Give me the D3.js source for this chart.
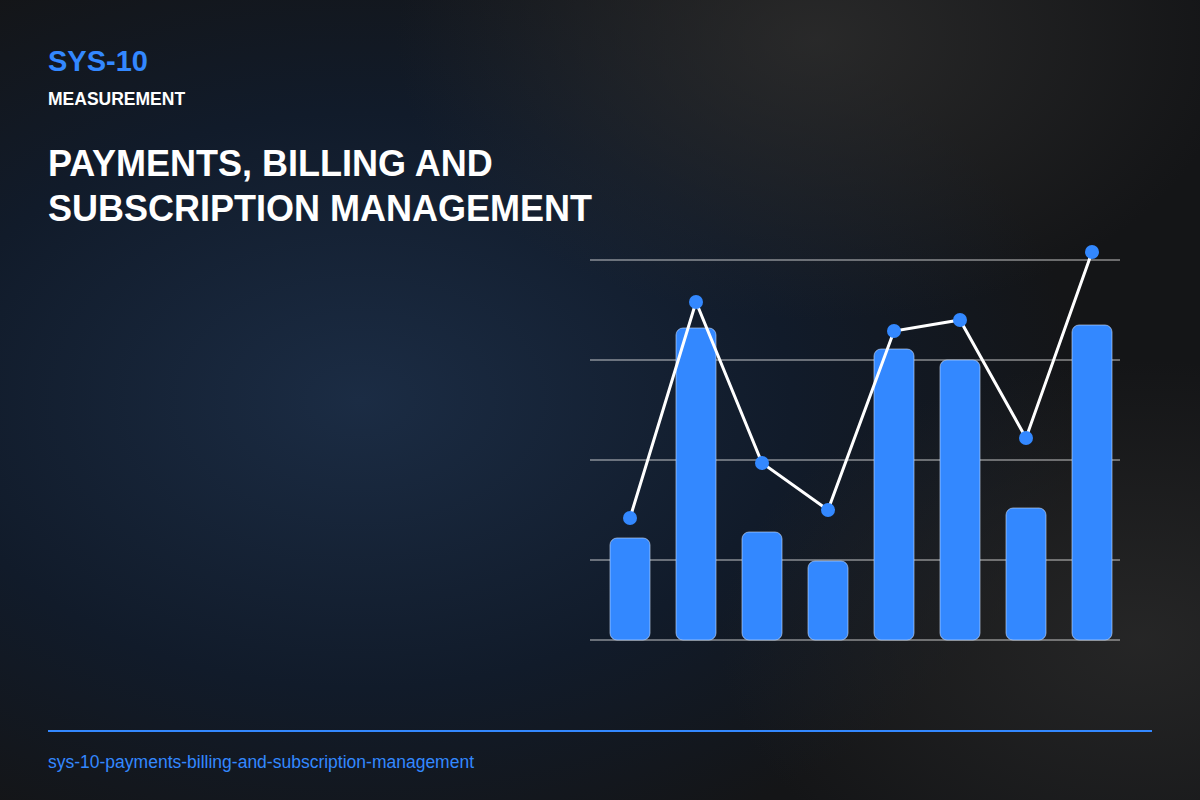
<!DOCTYPE html>
<html><head><meta charset="utf-8">
<script src="https://cdn.jsdelivr.net/npm/d3@7"></script>
<style>body{margin:0;background:#111}svg{display:block}</style></head>
<body><script>
const categories = ["C1","C2","C3","C4","C5","C6","C7","C8"];
const barValues = [24.4, 66.4, 25.6, 19.8, 62.2, 60, 30.4, 67];
const lineValues = [28.4, 71.6, 39.4, 30, 65.8, 68, 44.4, 81.6];
const gridTicks = [20, 40, 60, 80];

const W=1200,H=800;
const svg=d3.select("body").append("svg").attr("width",W).attr("height",H);
const defs=svg.append("defs");
const g1=defs.append("radialGradient").attr("id","bg1").attr("cx","0.3").attr("cy","0.5").attr("r","0.6");
g1.append("stop").attr("offset","0").attr("stop-color","#1b2c44");
g1.append("stop").attr("offset","0.6").attr("stop-color","#111b2a");
g1.append("stop").attr("offset","1").attr("stop-color","#141517");
const g2=defs.append("radialGradient").attr("id","bg2").attr("cx","0.68").attr("cy","0.05").attr("r","0.35");
g2.append("stop").attr("offset","0").attr("stop-color","#2e2e2e").attr("stop-opacity",0.8);
g2.append("stop").attr("offset","1").attr("stop-color","#2e2e2e").attr("stop-opacity",0);
const g3=defs.append("radialGradient").attr("id","bg3").attr("cx","0.95").attr("cy","0.8").attr("r","0.35");
g3.append("stop").attr("offset","0").attr("stop-color","#2a2a2a").attr("stop-opacity",0.8);
g3.append("stop").attr("offset","1").attr("stop-color","#2a2a2a").attr("stop-opacity",0);
svg.append("rect").attr("width",W).attr("height",H).attr("fill","url(#bg1)");
svg.append("rect").attr("width",W).attr("height",H).attr("fill","url(#bg2)");
svg.append("rect").attr("width",W).attr("height",H).attr("fill","url(#bg3)");

const font="Liberation Sans, Arial, sans-serif";
svg.append("text").attr("x",48).attr("y",71).attr("fill","#3388ff").attr("font-family",font).attr("font-weight","bold").attr("font-size",29).text("SYS-10");
svg.append("text").attr("x",48).attr("y",105).attr("fill","#fff").attr("font-family",font).attr("font-weight","bold").attr("font-size",17.5).text("MEASUREMENT");
svg.append("text").attr("x",48).attr("y",176).attr("fill","#fff").attr("font-family",font).attr("font-weight","bold").attr("font-size",36).text("PAYMENTS, BILLING AND");
svg.append("text").attr("x",48).attr("y",221).attr("fill","#fff").attr("font-family",font).attr("font-weight","bold").attr("font-size",36).text("SUBSCRIPTION MANAGEMENT");

const xb=d3.scaleBand().domain(categories).range([597,1125]);
const y=d3.scaleLinear().domain([4,80]).range([640,260]);

svg.append("g").selectAll("line").data(gridTicks).join("line")
 .attr("x1",590).attr("x2",1120).attr("y1",d=>y(d)).attr("y2",d=>y(d)).attr("stroke","#f0f0f0").attr("stroke-width",0.8);
svg.append("line").attr("x1",590).attr("x2",1120).attr("y1",y(4)).attr("y2",y(4)).attr("stroke","#f0f0f0").attr("stroke-width",0.8);

svg.append("g").selectAll("rect").data(barValues).join("rect")
 .attr("x",(d,i)=>xb(categories[i])+xb.bandwidth()/2-20).attr("width",40)
 .attr("y",d=>y(d)).attr("height",d=>y(4)-y(d)).attr("rx",7)
 .attr("fill","#3388ff").attr("stroke","#cfe0ff").attr("stroke-width",0.6);

const cx=i=>xb(categories[i])+xb.bandwidth()/2;
svg.append("path").datum(lineValues).attr("fill","none").attr("stroke","#fff").attr("stroke-width",3)
 .attr("d",d3.line().x((d,i)=>cx(i)).y(d=>y(d)));
svg.append("g").selectAll("circle").data(lineValues).join("circle")
 .attr("cx",(d,i)=>cx(i)).attr("cy",d=>y(d)).attr("r",7).attr("fill","#3388ff");

svg.append("line").attr("x1",48).attr("x2",1152).attr("y1",731).attr("y2",731).attr("stroke","#3388ff").attr("stroke-width",2);
svg.append("text").attr("x",48).attr("y",768).attr("fill","#3388ff").attr("font-family",font).attr("font-size",17.5).text("sys-10-payments-billing-and-subscription-management");
</script></body></html>
